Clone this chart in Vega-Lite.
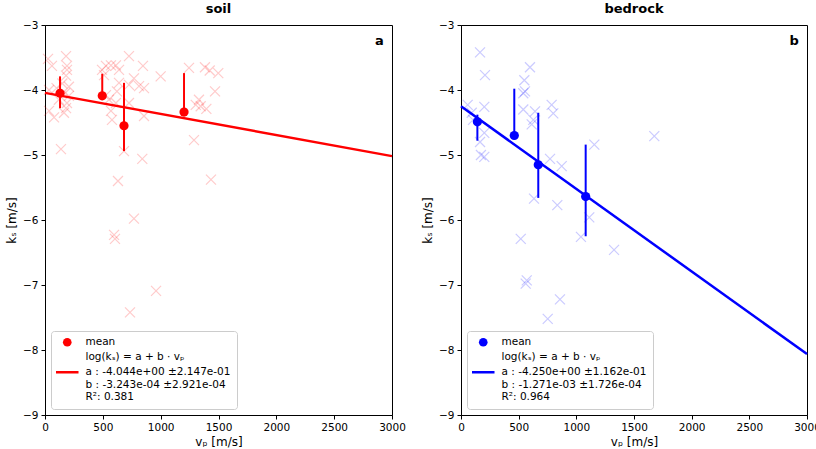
{
  "$schema": "https://vega.github.io/schema/vega-lite/v6.json",
  "padding": {"left": 5, "top": 2, "right": 5, "bottom": 2},
  "spacing": 15,
  "datasets": {
    "soil_pts": [
      {"vp": 26, "ks": -3.52}, {"vp": 60, "ks": -3.63}, {"vp": 182, "ks": -3.48}, {"vp": 190, "ks": -3.63},
      {"vp": 190, "ks": -3.69}, {"vp": 182, "ks": -3.78}, {"vp": 35, "ks": -4.0}, {"vp": 207, "ks": -3.95},
      {"vp": 173, "ks": -4.05}, {"vp": 207, "ks": -4.09}, {"vp": 35, "ks": -4.32}, {"vp": 78, "ks": -4.42},
      {"vp": 164, "ks": -4.35}, {"vp": 182, "ks": -4.28}, {"vp": 138, "ks": -4.91}, {"vp": 190, "ks": -4.2},
      {"vp": 100, "ks": -3.97}, {"vp": 150, "ks": -3.9}, {"vp": 120, "ks": -4.15},
      {"vp": 493, "ks": -3.69}, {"vp": 527, "ks": -3.63}, {"vp": 570, "ks": -3.62}, {"vp": 613, "ks": -3.62},
      {"vp": 640, "ks": -3.69}, {"vp": 510, "ks": -3.77}, {"vp": 726, "ks": -3.48}, {"vp": 847, "ks": -3.63},
      {"vp": 1000, "ks": -3.79}, {"vp": 1245, "ks": -3.66}, {"vp": 1383, "ks": -3.65}, {"vp": 1424, "ks": -3.7},
      {"vp": 1498, "ks": -3.74}, {"vp": 1470, "ks": -4.02}, {"vp": 1331, "ks": -4.15}, {"vp": 1303, "ks": -4.23},
      {"vp": 1346, "ks": -4.25}, {"vp": 1395, "ks": -4.29}, {"vp": 1288, "ks": -4.77}, {"vp": 1435, "ks": -5.38},
      {"vp": 841, "ks": -5.06}, {"vp": 631, "ks": -5.4}, {"vp": 856, "ks": -4.4}, {"vp": 683, "ks": -4.94},
      {"vp": 579, "ks": -4.46}, {"vp": 570, "ks": -4.32}, {"vp": 613, "ks": -4.2}, {"vp": 640, "ks": -3.89},
      {"vp": 622, "ks": -4.02}, {"vp": 726, "ks": -3.92}, {"vp": 769, "ks": -3.82}, {"vp": 813, "ks": -3.94},
      {"vp": 856, "ks": -3.97}, {"vp": 726, "ks": -4.2}, {"vp": 553, "ks": -4.15}, {"vp": 527, "ks": -4.08},
      {"vp": 597, "ks": -6.23}, {"vp": 605, "ks": -6.29}, {"vp": 769, "ks": -5.98}, {"vp": 960, "ks": -7.09},
      {"vp": 735, "ks": -7.42}
    ],
    "soil_mean": [
      {"vp": 130, "ks": -4.05, "hi": -3.79, "lo": -4.28},
      {"vp": 495, "ks": -4.09, "hi": -3.75, "lo": -4.14},
      {"vp": 683, "ks": -4.55, "hi": -3.89, "lo": -4.94},
      {"vp": 1202, "ks": -4.34, "hi": -3.74, "lo": -4.4}
    ],
    "soil_fit": [{"vp": 0, "ks": -4.044}, {"vp": 3000, "ks": -5.017}],
    "rock_pts": [
      {"vp": 165, "ks": -3.42}, {"vp": 208, "ks": -3.77}, {"vp": 598, "ks": -3.65}, {"vp": 549, "ks": -3.85},
      {"vp": 540, "ks": -4.05}, {"vp": 555, "ks": -4.02}, {"vp": 58, "ks": -4.23}, {"vp": 202, "ks": -4.26},
      {"vp": 93, "ks": -4.35}, {"vp": 104, "ks": -4.46}, {"vp": 540, "ks": -4.3}, {"vp": 642, "ks": -4.33},
      {"vp": 786, "ks": -4.23}, {"vp": 800, "ks": -4.36}, {"vp": 627, "ks": -4.46}, {"vp": 613, "ks": -4.53},
      {"vp": 202, "ks": -4.66}, {"vp": 165, "ks": -4.8}, {"vp": 173, "ks": -5.0}, {"vp": 202, "ks": -5.03},
      {"vp": 1676, "ks": -4.71}, {"vp": 1156, "ks": -4.84}, {"vp": 772, "ks": -5.06}, {"vp": 873, "ks": -5.17},
      {"vp": 633, "ks": -5.67}, {"vp": 835, "ks": -5.77}, {"vp": 1112, "ks": -5.96}, {"vp": 518, "ks": -6.29},
      {"vp": 1040, "ks": -6.26}, {"vp": 1327, "ks": -6.46}, {"vp": 570, "ks": -6.93}, {"vp": 561, "ks": -6.98},
      {"vp": 858, "ks": -7.22}, {"vp": 752, "ks": -7.52}
    ],
    "rock_mean": [
      {"vp": 142, "ks": -4.49, "hi": -4.38, "lo": -4.78},
      {"vp": 462, "ks": -4.7, "hi": -3.98, "lo": -4.76},
      {"vp": 670, "ks": -5.15, "hi": -4.35, "lo": -5.66},
      {"vp": 1081, "ks": -5.64, "hi": -4.84, "lo": -6.25}
    ],
    "rock_fit": [{"vp": 0, "ks": -4.25}, {"vp": 3000, "ks": -8.063}]
  },
  "hconcat": [
    {
      "width": 347, "height": 390,
      "title": {"text": "soil", "fontWeight": "bold", "fontSize": 13, "offset": 4},
      "layer": [
        {
          "data": {"name": "soil_pts"},
          "mark": {"type": "point", "shape": "M-1,-1L1,1M-1,1L1,-1", "filled": false, "color": "#ff0000", "opacity": 0.2, "strokeWidth": 1.2, "size": 100},
          "encoding": {
            "x": {"field": "vp", "type": "quantitative", "scale": {"domain": [0, 3000], "nice": false}, "axis": {"values": [0, 500, 1000, 1500, 2000, 2500, 3000], "format": "d", "labelFlush": false, "title": "vₚ [m/s]"}},
            "y": {"field": "ks", "type": "quantitative", "scale": {"domain": [-9, -3], "nice": false, "zero": false}, "axis": {"values": [-9, -8, -7, -6, -5, -4, -3], "format": "d", "labelFlush": false, "title": "kₛ [m/s]"}}
          }
        },
        {
          "data": {"name": "soil_fit"},
          "mark": {"type": "line", "color": "#ff0000", "strokeWidth": 2.5},
          "encoding": {"x": {"field": "vp", "type": "quantitative"}, "y": {"field": "ks", "type": "quantitative"}}
        },
        {
          "data": {"name": "soil_mean"},
          "mark": {"type": "rule", "color": "#ff0000", "strokeWidth": 2},
          "encoding": {"x": {"field": "vp", "type": "quantitative"}, "y": {"field": "hi", "type": "quantitative"}, "y2": {"field": "lo"}}
        },
        {
          "data": {"name": "soil_mean"},
          "mark": {"type": "point", "filled": true, "color": "#ff0000", "opacity": 1, "size": 85},
          "encoding": {
            "x": {"field": "vp", "type": "quantitative"},
            "y": {"field": "ks", "type": "quantitative"},
            "shape": {
              "datum": "mean",
              "scale": {"domain": ["mean", "eq", "fit"], "range": ["circle", "M0,0", "M-2.6,-0.29L2.6,-0.29L2.6,0.29L-2.6,0.29Z"]},
              "legend": {
                "orient": "bottom-left", "offset": 6, "title": null, "values": ["mean", "eq", "fit"],
                "labelExpr": "datum.label == 'mean' ? 'mean' : datum.label == 'eq' ? 'log(kₛ) = a + b · vₚ' : ['a : -4.044e+00 ±2.147e-01', 'b : -3.243e-04 ±2.921e-04', 'R²: 0.381']",
                "symbolFillColor": "#ff0000", "symbolStrokeColor": "#ff0000", "symbolStrokeWidth": 0, "symbolSize": 75, "symbolOpacity": 1,
                "fillColor": "white", "strokeColor": "#cccccc", "cornerRadius": 3, "padding": 6,
                "labelFontSize": 10.5, "labelColor": "black", "rowPadding": 4, "labelOffset": 13, "symbolOffset": 5
              }
            }
          }
        },
        {
          "data": {"values": [{"vp": 2930, "ks": -3.15, "t": "a"}]},
          "mark": {"type": "text", "fontWeight": "bold", "fontSize": 13, "align": "right", "baseline": "top", "color": "black"},
          "encoding": {"x": {"field": "vp", "type": "quantitative"}, "y": {"field": "ks", "type": "quantitative"}, "text": {"field": "t"}}
        }
      ]
    },
    {
      "width": 346, "height": 390,
      "title": {"text": "bedrock", "fontWeight": "bold", "fontSize": 13, "offset": 4},
      "layer": [
        {
          "data": {"name": "rock_pts"},
          "mark": {"type": "point", "shape": "M-1,-1L1,1M-1,1L1,-1", "filled": false, "color": "#0000ff", "opacity": 0.2, "strokeWidth": 1.2, "size": 100},
          "encoding": {
            "x": {"field": "vp", "type": "quantitative", "scale": {"domain": [0, 3000], "nice": false}, "axis": {"values": [0, 500, 1000, 1500, 2000, 2500, 3000], "format": "d", "labelFlush": false, "title": "vₚ [m/s]"}},
            "y": {"field": "ks", "type": "quantitative", "scale": {"domain": [-9, -3], "nice": false, "zero": false}, "axis": {"values": [-9, -8, -7, -6, -5, -4, -3], "format": "d", "labelFlush": false, "title": "kₛ [m/s]"}}
          }
        },
        {
          "data": {"name": "rock_fit"},
          "mark": {"type": "line", "color": "#0000ff", "strokeWidth": 2.5},
          "encoding": {"x": {"field": "vp", "type": "quantitative"}, "y": {"field": "ks", "type": "quantitative"}}
        },
        {
          "data": {"name": "rock_mean"},
          "mark": {"type": "rule", "color": "#0000ff", "strokeWidth": 2},
          "encoding": {"x": {"field": "vp", "type": "quantitative"}, "y": {"field": "hi", "type": "quantitative"}, "y2": {"field": "lo"}}
        },
        {
          "data": {"name": "rock_mean"},
          "mark": {"type": "point", "filled": true, "color": "#0000ff", "opacity": 1, "size": 85},
          "encoding": {
            "x": {"field": "vp", "type": "quantitative"},
            "y": {"field": "ks", "type": "quantitative"},
            "shape": {
              "datum": "mean",
              "scale": {"domain": ["mean", "eq", "fit"], "range": ["circle", "M0,0", "M-2.6,-0.29L2.6,-0.29L2.6,0.29L-2.6,0.29Z"]},
              "legend": {
                "orient": "bottom-left", "offset": 6, "title": null, "values": ["mean", "eq", "fit"],
                "labelExpr": "datum.label == 'mean' ? 'mean' : datum.label == 'eq' ? 'log(kₛ) = a + b · vₚ' : ['a : -4.250e+00 ±1.162e-01', 'b : -1.271e-03 ±1.726e-04', 'R²: 0.964']",
                "symbolFillColor": "#0000ff", "symbolStrokeColor": "#0000ff", "symbolStrokeWidth": 0, "symbolSize": 75, "symbolOpacity": 1,
                "fillColor": "white", "strokeColor": "#cccccc", "cornerRadius": 3, "padding": 6,
                "labelFontSize": 10.5, "labelColor": "black", "rowPadding": 4, "labelOffset": 13, "symbolOffset": 5
              }
            }
          }
        },
        {
          "data": {"values": [{"vp": 2930, "ks": -3.15, "t": "b"}]},
          "mark": {"type": "text", "fontWeight": "bold", "fontSize": 13, "align": "right", "baseline": "top", "color": "black"},
          "encoding": {"x": {"field": "vp", "type": "quantitative"}, "y": {"field": "ks", "type": "quantitative"}, "text": {"field": "t"}}
        }
      ]
    }
  ],
  "resolve": {"scale": {"shape": "independent", "x": "independent", "y": "independent"}, "legend": {"shape": "independent"}},
  "config": {
    "font": "DejaVu Sans",
    "view": {"stroke": "black", "strokeWidth": 1},
    "axis": {"grid": false, "domainColor": "black", "tickColor": "black", "labelColor": "black", "titleColor": "black", "labelFontSize": 10.5, "titleFontSize": 12, "titleFontWeight": "normal", "tickSize": 4, "labelPadding": 3},
    "title": {"color": "black"}
  }
}
